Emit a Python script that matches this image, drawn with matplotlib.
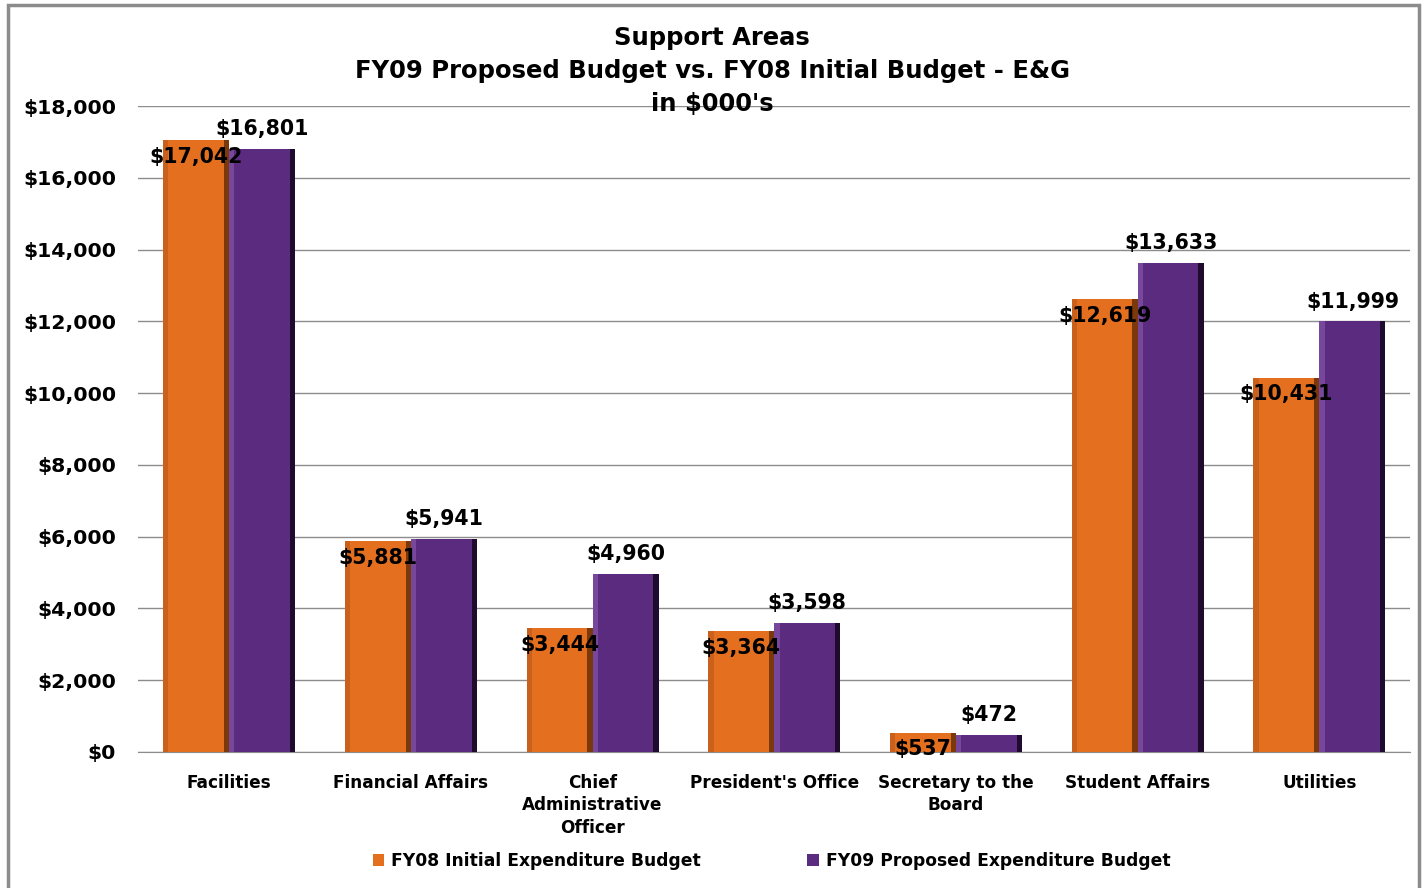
import numpy as np
import matplotlib
matplotlib.use("Agg")
import matplotlib.pyplot as plt
from matplotlib.patches import Rectangle
from matplotlib.ticker import FuncFormatter, MultipleLocator

plt.rcParams["font.family"] = ["DejaVu Sans"]

# data (in $000's)
categories = ["Facilities", "Financial Affairs", "Chief\nAdministrative\nOfficer",
              "President's Office", "Secretary to the\nBoard", "Student Affairs", "Utilities"]
fy08 = [17042, 5881, 3444, 3364, 537, 12619, 10431]
fy09 = [16801, 5941, 4960, 3598, 472, 13633, 11999]
series_names = ["FY08 Initial Expenditure Budget", "FY09 Proposed Expenditure Budget"]

orange = "#E46F1F"
orange_dark = "#7A380B"
orange_light = "#B8561A"
purple = "#5B2B80"
purple_dark = "#1E0B2E"
purple_light = "#8B5BAE"

fig = plt.figure(figsize=(14.26, 8.88), dpi=100)
ax = fig.add_axes([0.097, 0.1532, 0.892, 0.7274])

x = np.arange(len(categories))
w = 0.363

def bevel_bars(xpos, vals, base, dark, light):
    bars = ax.bar(xpos, vals, w, color=base, zorder=3, linewidth=0)
    # fake bevel: strip on the left, dark strip on the right
    e = w * 0.08
    ax.bar(xpos - w / 2 + e / 2, vals, e, color=light, zorder=4, linewidth=0, alpha=0.6)
    ax.bar(xpos + w / 2 - e / 2, vals, e, color=dark, zorder=4, linewidth=0)
    return bars

b1 = bevel_bars(x - w / 2, fy08, orange, orange_dark, orange_light)
b2 = bevel_bars(x + w / 2, fy09, purple, purple_dark, purple_light)

for xi, v in zip(x - w / 2, fy08):
    ax.annotate(f"${v:,}", (xi, v), xytext=(0, -12), textcoords="offset points",
                ha="center", va="center", fontsize=14.8, fontweight="bold", color="black", zorder=6)
for xi, v in zip(x + w / 2, fy09):
    ax.annotate(f"${v:,}", (xi, v), xytext=(0, 7), textcoords="offset points",
                ha="center", va="bottom", fontsize=14.8, fontweight="bold", color="black", zorder=6)

ax.set_xlim(-0.5, len(categories) - 0.5)
ax.set_ylim(0, 18000)
ax.yaxis.set_major_locator(MultipleLocator(2000))
ax.yaxis.set_major_formatter(FuncFormatter(lambda v, p: f"${int(v):,}"))
ax.grid(axis="y", color="#8c8c8c", linewidth=1, zorder=0)
ax.set_axisbelow(True)
for s in ["top", "right", "left"]:
    ax.spines[s].set_visible(False)
ax.spines["bottom"].set_color("#8c8c8c")
ax.tick_params(axis="y", length=0, pad=16, labelsize=14.7)
ax.tick_params(axis="x", length=0, pad=16, labelsize=12.2)
for t in ax.get_yticklabels():
    t.set_fontweight("bold")
ax.set_xticks(x)
ax.set_xticklabels(categories, fontweight="bold", linespacing=1.3)

fig.text(0.4993, 0.9205, "Support Areas\nFY09 Proposed Budget vs. FY08 Initial Budget - E&G\nin $000's",
         ha="center", va="center", fontsize=17.5, fontweight="bold", linespacing=1.47)

leg = fig.legend([b1, b2], series_names, loc="center", bbox_to_anchor=(0.541, 0.0305),
                 ncol=2, frameon=False, fontsize=12.3, handlelength=0.7, handleheight=0.7,
                 handletextpad=0.4, columnspacing=6.2)
for t in leg.get_texts():
    t.set_fontweight("bold")

fig.patches.append(Rectangle((0.0056, -0.01), 0.9895, 1.0044, transform=fig.transFigure,
                             fill=False, edgecolor="#8c8c8c", linewidth=2.5))

fig.savefig("out.png", dpi=100)
